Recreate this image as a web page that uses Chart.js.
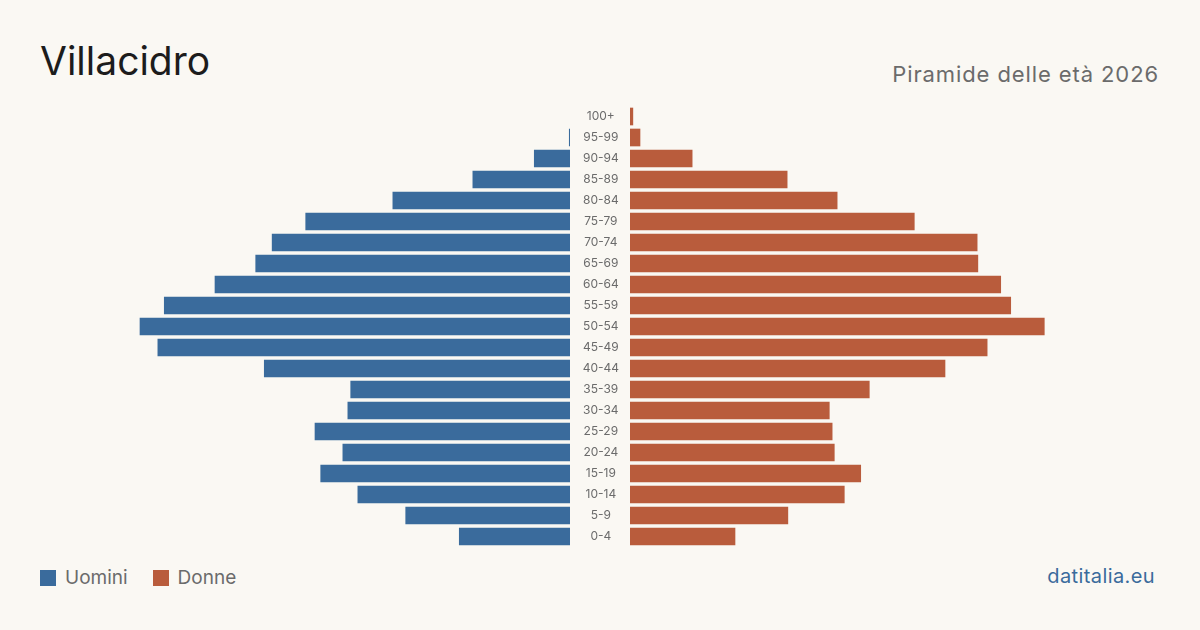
<!DOCTYPE html>
<html>
<head>
<meta charset="utf-8">
<script src="https://cdn.jsdelivr.net/npm/chart.js@4/dist/chart.umd.min.js"></script>
<style>
  html, body { margin: 0; padding: 0; }
  body { width: 1200px; height: 630px; background: #faf8f3; position: relative; overflow: hidden;
         font-family: Inter, "Noto Sans", sans-serif; }
  .title { position: absolute; left: 40px; top: 41px; font-size: 39px; color: #1c1c1c; line-height: 1; }
  .sub { position: absolute; right: 41px; top: 63px; font-size: 22px; letter-spacing: 0.9px; color: #6b6b6b; line-height: 1; }
  .legend { position: absolute; left: 40px; top: 566px; font-size: 19px; color: #6b6b6b; display: flex; align-items: center; }
  .legend span.sw { display: inline-block; width: 16px; height: 16px; margin-right: 9px; }
  .legend .item { display: flex; align-items: center; margin-right: 25px; }
  .brand { position: absolute; right: 45px; top: 564px; font-size: 20px; letter-spacing: 0.4px; color: #3a6b9c; }
  #left { position: absolute; left: 40px; top: 106px; }
  #right { position: absolute; left: 570px; top: 106px; }
</style>
</head>
<body>
<div class="title">Villacidro</div>
<div class="sub">Piramide delle età 2026</div>
<div class="legend">
  <div class="item"><span class="sw" style="background:#3a6b9c"></span>Uomini</div>
  <div class="item"><span class="sw" style="background:#b95c3c"></span>Donne</div>
</div>
<div class="brand">datitalia.eu</div>
<div id="left" style="width:530px;height:441px"><canvas id="cl"></canvas></div>
<div id="right" style="width:590px;height:441px"><canvas id="cr"></canvas></div>
<script>
const ageGroups = ['100+', '95-99', '90-94', '85-89', '80-84', '75-79', '70-74', '65-69', '60-64', '55-59',
  '50-54', '45-49', '40-44', '35-39', '30-34', '25-29', '20-24', '15-19', '10-14', '5-9', '0-4'];
const uomini = [null, 1, 50, 136, 248, 370, 417, 440, 497, 568, 602, 577, 428, 307, 311, 357, 318, 349, 297, 230, 155];
const donne = [4, 14, 87, 220, 290, 398, 486, 487, 519, 533, 580, 500, 441, 335, 279, 283, 286, 323, 300, 221, 147];
const maxVal = 742;

const BLUE = '#3a6b9c';
const RED = '#b95c3c';

const baseOpts = {
  indexAxis: 'y',
  responsive: true,
  maintainAspectRatio: false,
  animation: false,
  layout: { padding: 0 },
  plugins: { legend: { display: false }, tooltip: { enabled: false } },
};

new Chart(document.getElementById('cl'), {
  type: 'bar',
  data: {
    labels: ageGroups,
    datasets: [{ label: 'Uomini', data: uomini, backgroundColor: BLUE, barThickness: 17 }]
  },
  options: {
    ...baseOpts,
    scales: {
      x: { display: false, reverse: true, min: 0, max: maxVal },
      y: { display: false }
    }
  }
});

new Chart(document.getElementById('cr'), {
  type: 'bar',
  data: {
    labels: ageGroups,
    datasets: [{ label: 'Donne', data: donne, backgroundColor: RED, barThickness: 17 }]
  },
  options: {
    ...baseOpts,
    scales: {
      x: { display: false, min: 0, max: maxVal },
      y: {
        grid: { display: false, drawTicks: false },
        border: { display: false },
        ticks: { color: '#6b6b6b', font: { family: 'Inter', size: 12 }, crossAlign: 'center', padding: 11 },
        afterFit: (scale) => {
          // labels sit in the middle gap; no extra room above/below
          scale.width = 60;
          scale.paddingTop = 0;
          scale.paddingBottom = 0;
        }
      }
    }
  }
});
</script>
</body>
</html>
